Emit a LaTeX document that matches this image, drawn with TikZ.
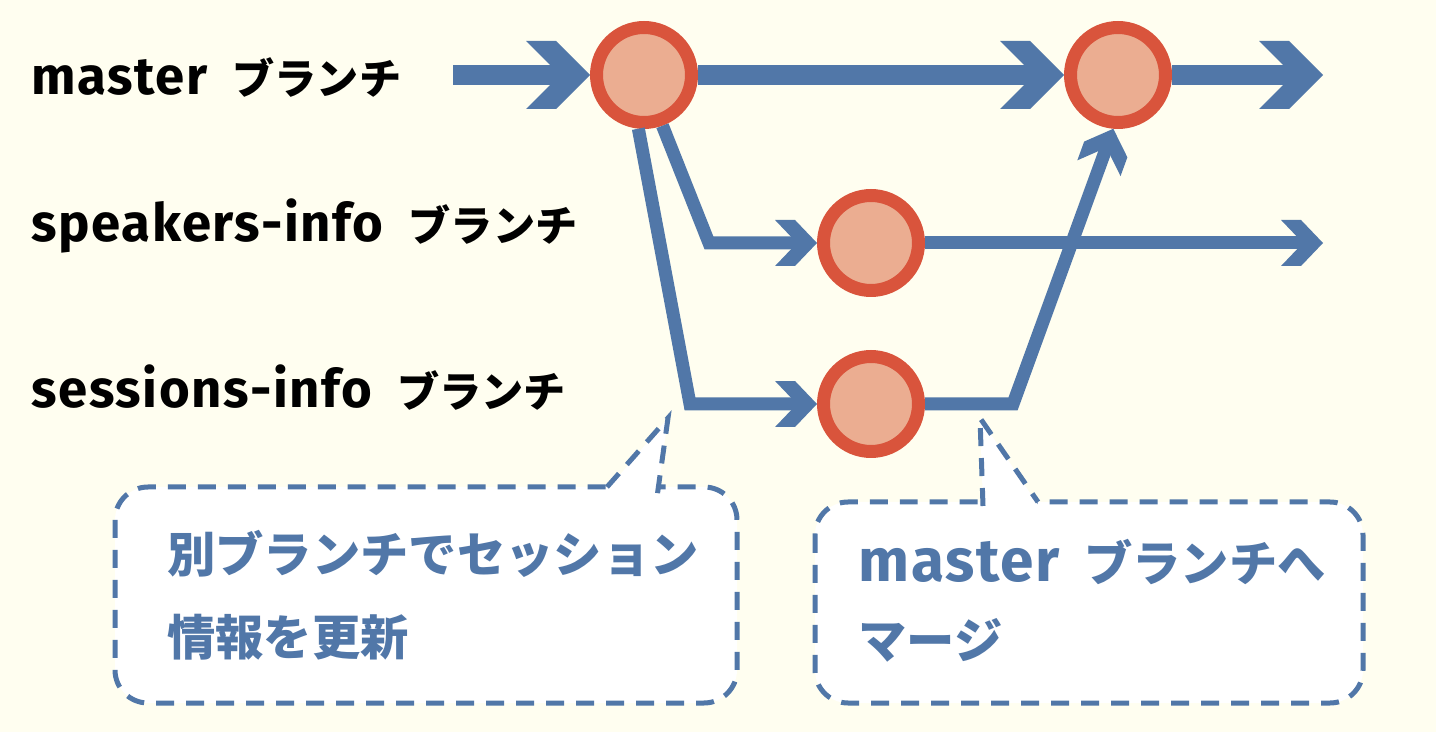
\documentclass[tikz,border=0pt]{standalone}
\usepackage{fontspec}
\setmainfont{Noto Sans CJK JP}
\newfontfamily\latinfont{Fira Sans}[Scale=1.25, LetterSpace=3]
\usepackage{xcolor}
\usetikzlibrary{arrows.meta}

\definecolor{bgcream}{RGB}{255,254,240}
\definecolor{gitblue}{RGB}{81,119,168}
\definecolor{ringred}{RGB}{217,84,60}
\definecolor{commitfill}{RGB}{235,173,145}

% chevron tip, filled
\pgfdeclarearrow{
  name = Chevron,
  parameters = {\the\pgfarrowlength,\the\pgfarrowwidth,\the\pgfarrowinset},
  setup code = {
    \pgfarrowssettipend{0pt}
    \pgfarrowssetlineend{-.9\pgfarrowinset}
    \pgfarrowssetbackend{-\pgfarrowlength}
    \pgfarrowssavethe\pgfarrowlength
    \pgfarrowssavethe\pgfarrowwidth
    \pgfarrowssavethe\pgfarrowinset
  },
  drawing code = {
    \pgfpathmoveto{\pgfpointorigin}
    \pgfpathlineto{\pgfpoint{\pgfarrowinset-\pgfarrowlength}{.5\pgfarrowwidth}}
    \pgfpathlineto{\pgfpoint{-\pgfarrowlength}{.5\pgfarrowwidth}}
    \pgfpathlineto{\pgfpoint{-\pgfarrowinset}{0pt}}
    \pgfpathlineto{\pgfpoint{-\pgfarrowlength}{-.5\pgfarrowwidth}}
    \pgfpathlineto{\pgfpoint{\pgfarrowinset-\pgfarrowlength}{-.5\pgfarrowwidth}}
    \pgfpathclose
    \pgfusepathqfill
  },
  defaults = {length=1.28cm, width=1.36cm, inset=0.6cm}
}

\begin{document}
\begin{tikzpicture}[x=0.02cm, y=-0.02cm,
    commit/.style={circle, draw=ringred, fill=commitfill, line width=0.26cm, minimum size=1.9cm, inner sep=0pt},
    trunk/.style={draw=gitblue, line width=0.4cm, -{Chevron[length=1.28cm, width=1.36cm, inset=0.6cm]}},
    twig/.style={draw=gitblue, line width=0.26cm, -{Chevron[length=0.84cm, width=0.92cm, inset=0.4cm]}},
    bubble/.style={draw=gitblue, line width=0.1cm, dash pattern=on 0.36cm off 0.24cm},
    branchname/.style={anchor=base west, inner sep=0pt, font=\fontsize{24pt}{28pt}\selectfont\bfseries},
    notetext/.style={anchor=base west, inner sep=0pt, text=gitblue, font=\fontsize{27.5pt}{32pt}\selectfont\bfseries}]
    \fill[bgcream] (0,0) rectangle (1436,732);

    % branch names
    \node[branchname] (lmaster) at (31,95) {{\latinfont master}\hspace{0.6em}ブランチ};
    \node[branchname] (lspeakers) at (31,242) {{\latinfont speakers-info}\hspace{0.6em}ブランチ};
    \node[branchname] (lsessions) at (31,408) {{\latinfont sessions-info}\hspace{0.6em}ブランチ};

    % callouts
    \draw[bubble, fill=white, rounded corners=0.66cm] (115,487) rectangle (737,703);
    \fill[white] (607,490) -- (668,418) -- (658,490) -- cycle;
    \coordinate (tip1) at (668,418);
    \draw[bubble] (607,487) -- (tip1) -- (657,497);
    \node[notetext] (note1a) at (167,573) {別ブランチでセッション};
    \node[notetext] (note1b) at (167,655) {情報を更新};

    \draw[bubble, fill=white, rounded corners=0.66cm] (815,502) rectangle (1363,703);
    \fill[white] (983,505) -- (980,418) -- (1038,505) -- cycle;
    \coordinate (tip2) at (980,418);
    \draw[bubble] (983,506) -- (tip2) -- (1038,502);
    \node[notetext] (note2a) at (858,582) {{\latinfont master}\hspace{0.5em}ブランチへ};
    \node[notetext] (note2b) at (858,658) {マージ};

    % commits
    \node[commit] (c1) at (644,75) {};
    \node[commit] (c2) at (871,243) {};
    \node[commit] (c3) at (871,404) {};
    \node[commit] (c4) at (1118,75) {};

    \coordinate (in) at (453,75);
    \coordinate (out1) at (1323,75);
    \coordinate (out2) at (1323,243);
    \coordinate (k2) at (709,243);
    \coordinate (k3) at (690,404);
    \coordinate (k4) at (1013,404);

    \draw[trunk] (in) -- (c1);
    \draw[trunk] (c1) -- (c4);
    \draw[trunk] (c4) -- (out1);
    \draw[twig] (c1.-70) -- (k2) -- (c2);
    \draw[twig] (c1.-96) -- (k3) -- (c3);
    \draw[twig] (c2) -- (out2);
    \draw[twig] (c3) -- (k4) -- (c4.-95);
\end{tikzpicture}
\end{document}
